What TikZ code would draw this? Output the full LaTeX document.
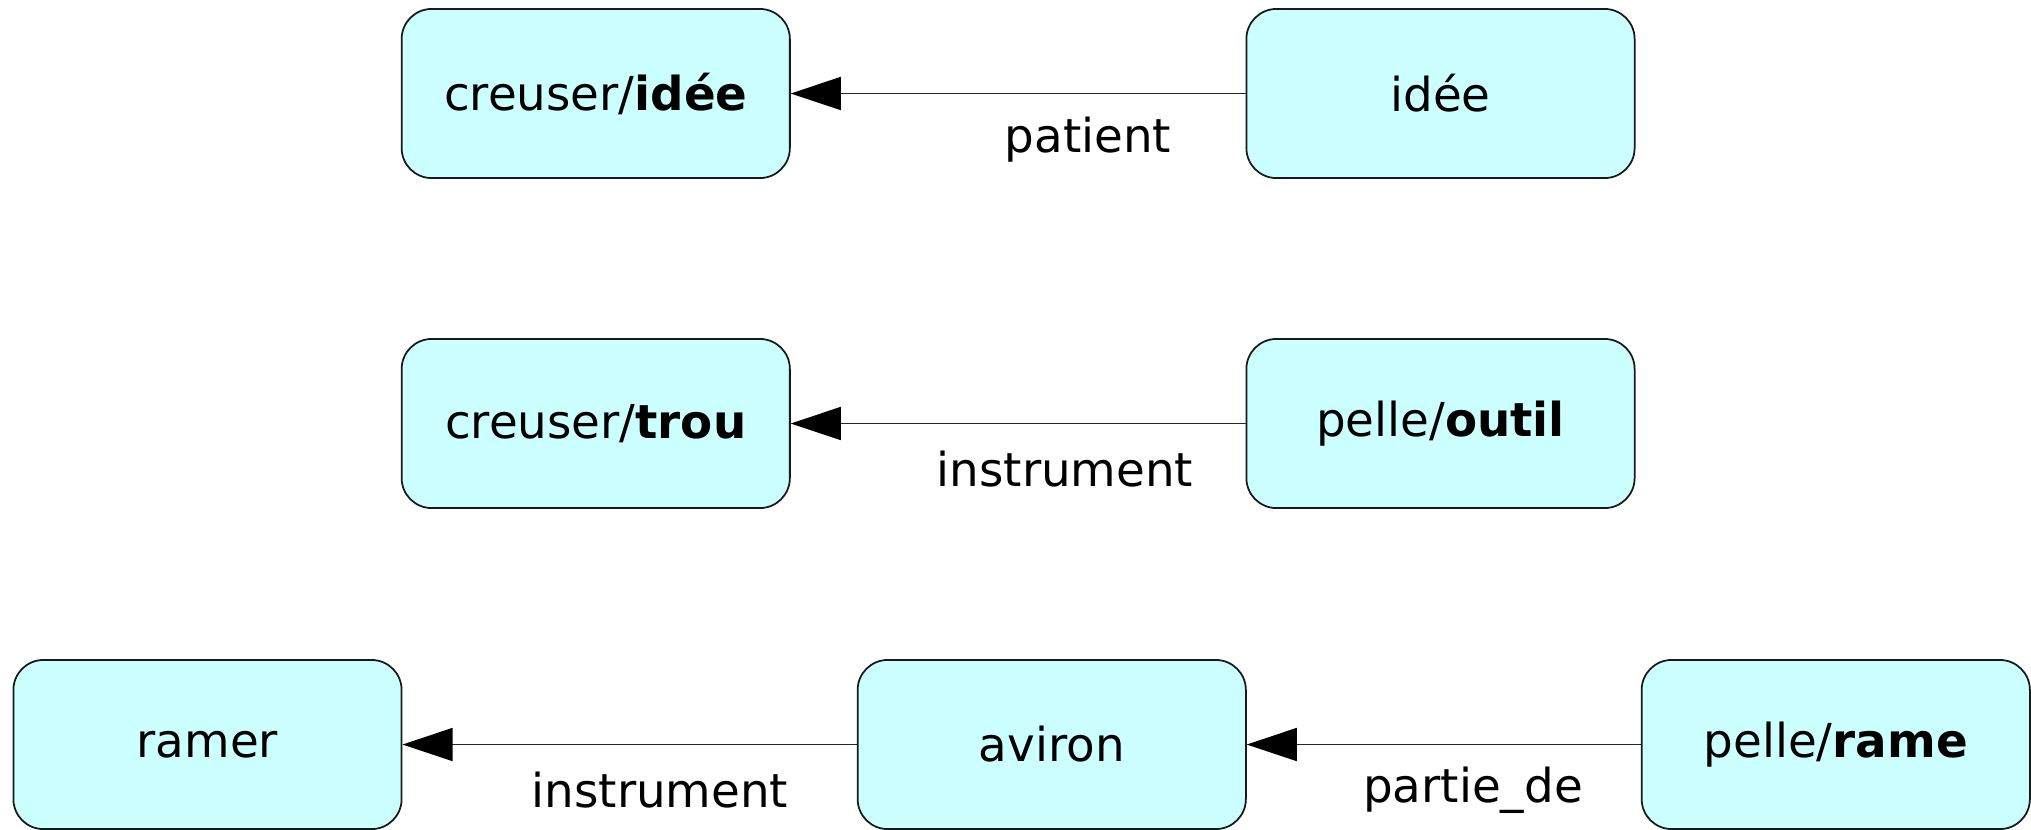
\documentclass[tikz,border=0pt]{standalone}
\usepackage{fontspec}
\setmainfont{DejaVu Sans}
\usetikzlibrary{arrows.meta,positioning}
\definecolor{BoxClr}{HTML}{CCFFFF}

\begin{document}
\begin{tikzpicture}[x=0.01cm,y=-0.01cm,
  concept/.style={draw=black!90,fill=BoxClr,rounded corners=0.3cm,line width=0.5pt,
    minimum width=3.88cm,minimum height=1.69cm,font=\fontsize{13.3}{16}\selectfont},
  rel/.style={draw=black!85,line width=0.45pt,-{Triangle[length=0.5cm,width=0.33cm,color=black]}},
  rellabel/.style={font=\fontsize{13.3}{16}\selectfont}]
\useasboundingbox (0,0) rectangle (2031,829);

% ligne 1
\node[concept] (cidee) at (595.75,93.5) {creuser/\textbf{idée}};
\node[concept] (idee) at (1440.5,93.5) {idée};
% ligne 2
\node[concept] (ctrou) at (595.75,423.5) {creuser/\textbf{trou}};
\node[concept] (outil) at (1440.5,423.5) {pelle/\textbf{outil}};
% ligne 3
\node[concept] (ramer) at (207.5,744.5) {ramer};
\node[concept] (aviron) at (1051.75,744.5) {aviron};
\node[concept] (rame) at (1835.75,744.5) {pelle/\textbf{rame}};

\draw[rel] (idee) -- (cidee);
\draw[rel] (outil) -- (ctrou);
\draw[rel] (aviron) -- (ramer);
\draw[rel] (rame) -- (aviron);

\node[rellabel] (lpat) at (1088,140) {patient};
\node[rellabel] (linst) at (1065,469) {instrument};
\node[rellabel] (linstb) at (660,790) {instrument};
\node[rellabel] (lpart) at (1473,790) {partie\_de};

\end{tikzpicture}
\end{document}
